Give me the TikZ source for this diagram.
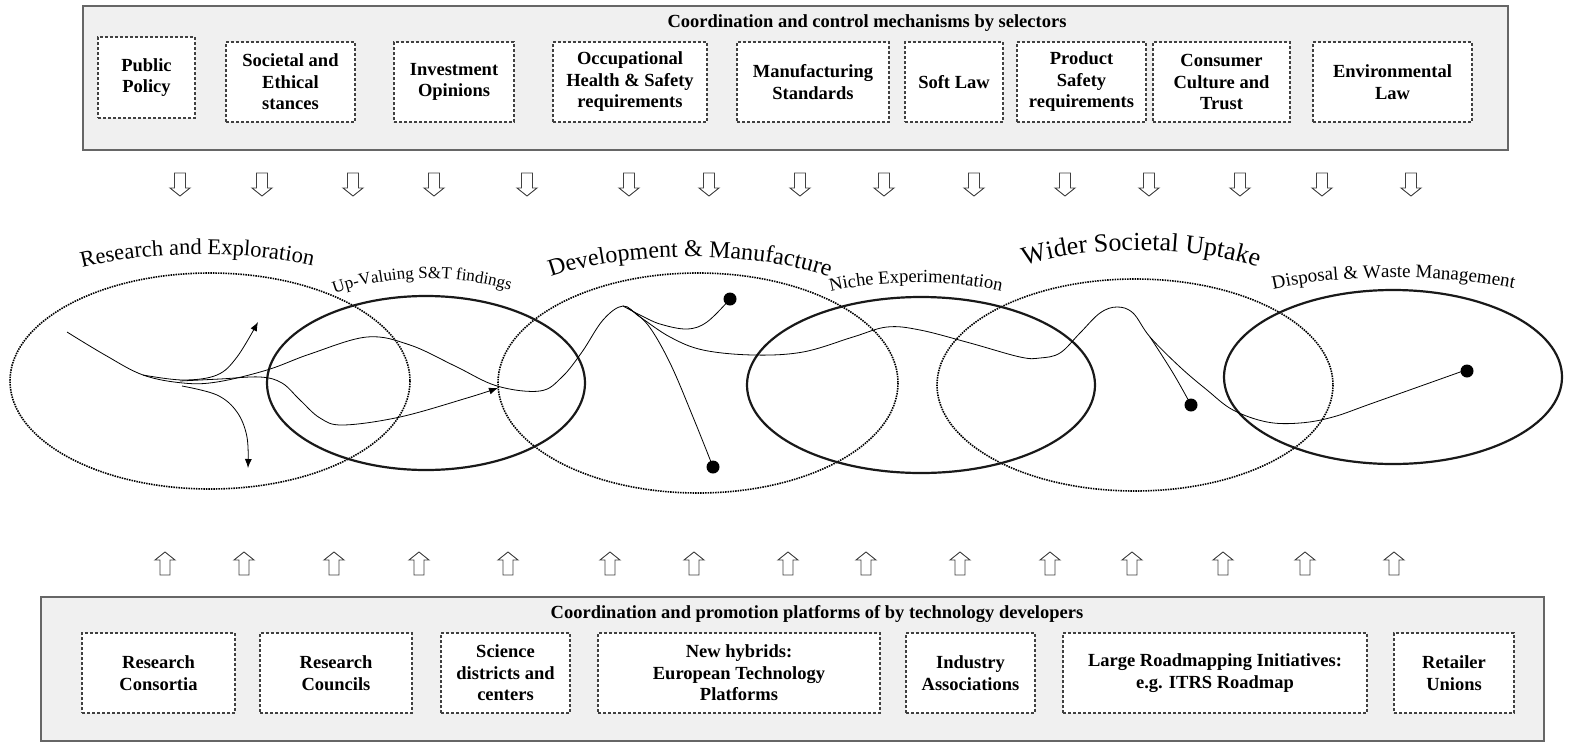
\documentclass[tikz,border=0pt]{standalone}
\usepackage{fontspec}
\newfontfamily\boxfont{Liberation Serif}
\usetikzlibrary{decorations.text,arrows.meta}

\begin{document}
\begin{tikzpicture}[x=1pt,y=-1pt,
    panel/.style={draw=black!60,line width=1.2pt,fill=black!6},
    selbox/.style={draw=black!75,dash pattern=on 3pt off 2pt,line width=1.1pt,fill=white,
      align=center,inner sep=0pt,minimum height=80pt,
      font=\boxfont\bfseries\fontsize{18.5}{21.5}\selectfont},
    heading/.style={font=\boxfont\bfseries\fontsize{18.5}{21.5}\selectfont},
    phase/.style={draw=black,dash pattern=on 1.5pt off 1pt,line width=1.6pt},
    niche/.style={draw=black!90,line width=2.2pt},
    track/.style={line width=0.8pt},
    tip/.style={-{Latex[length=9pt,width=7pt]}},
    hollow/.style={draw=black!75,line width=0.9pt,fill=white}]
  \useasboundingbox (0,0) rectangle (1571,742);

  % selectors
  \draw[panel] (83,6) rectangle (1508,150);
  \node[heading,anchor=base] (seltitle) at (867,27) {Coordination and control mechanisms by selectors};
  \node[selbox,minimum width=97pt,minimum height=81pt] (pubpol) at (146.5,77.5) {Public\\Policy};
  \node[selbox,minimum width=129pt] (soceth) at (290.5,82) {Societal and\\Ethical\\stances};
  \node[selbox,minimum width=120pt] (invest) at (454,82) {Investment\\Opinions};
  \node[selbox,minimum width=154pt] (occhs) at (630,82) {Occupational\\Health \& Safety\\requirements};
  \node[selbox,minimum width=152pt] (manstd) at (813,82) {Manufacturing\\Standards};
  \node[selbox,minimum width=98pt] (softlaw) at (954,82) {Soft Law};
  \node[selbox,minimum width=129pt] (prodsaf) at (1081.5,82) {Product\\Safety\\requirements};
  \node[selbox,minimum width=137pt] (consum) at (1221.5,82) {Consumer\\Culture and\\Trust};
  \node[selbox,minimum width=159pt] (envlaw) at (1392.5,82) {Environmental\\Law};

  \foreach \x in {180,262,353,434,527,629,709,800,884,974,1065,1149,1240,1322,1411}
    \draw[hollow] (\x-5.5,173) -- (\x+5.5,173) -- (\x+5.5,188) -- (\x+10,188) -- (\x,196)
      -- (\x-10,188) -- (\x-5.5,188) -- cycle;

  % phases
  \draw[phase] (210,381) ellipse [x radius=200, y radius=108];
  \draw[phase] (698,383) ellipse [x radius=200, y radius=110];
  \draw[phase] (1135,385) ellipse [x radius=198, y radius=106];
  \draw[niche] (426,383) ellipse [x radius=159, y radius=87];
  \draw[niche] (921,385) ellipse [x radius=174, y radius=88];
  \draw[niche] (1393,377) ellipse [x radius=169, y radius=87];

  \path[decorate,decoration={text along path,text align=center,
    text={|\boxfont\fontsize{22.5}{22.5}\selectfont|Research and Exploration}}]
    (70,271) .. controls (140,249) and (255,249) .. (325,269);
  \path[decorate,decoration={text along path,text align=center,
    text={|\boxfont\fontsize{17}{17}\selectfont|Up-Valuing S{\&}T findings}}]
    (325,297) .. controls (385,273) and (460,273) .. (520,293);
  \path[decorate,decoration={text along path,text align=center,
    text={|\boxfont\fontsize{24}{24}\selectfont|Development {\&} Manufacture}}]
    (534,284) .. controls (610,248) and (770,248) .. (846,284);
  \path[decorate,decoration={text along path,text align=center,
    text={|\boxfont\fontsize{18.5}{18.5}\selectfont|Niche Experimentation}}]
    (822,294) .. controls (875,279) and (955,279) .. (1010,293);
  \path[decorate,decoration={text along path,text align=center,
    text={|\boxfont\fontsize{26}{26}\selectfont|Wider Societal Uptake}}]
    (1010,271) .. controls (1075,243) and (1205,243) .. (1272,273);
  \path[decorate,decoration={text along path,text align=center,
    text={|\boxfont\fontsize{19}{19}\selectfont|Disposal {\&} Waste Management}}]
    (1262,292) .. controls (1330,273) and (1450,273) .. (1525,291);

  % trajectories
  \draw[track] plot[smooth,tension=0.6] coordinates {(67,332) (105,355) (143,375) (183,383)
    (217,382) (267,370) (310,354) (367,337) (410,345) (455,366) (497,386) (540,391)
    (562,377) (582,352) (603,320) (623,306) (640,317) (670,337) (703,350) (753,355)
    (803,352) (853,337) (887,327) (920,330) (970,343) (1020,357) (1040,358) (1060,353)
    (1080,333) (1100,313) (1117,307) (1133,313) (1150,337) (1180,367) (1207,390)
    (1233,410) (1267,422) (1300,423) (1333,417) (1373,403) (1463,371)};
  \draw[track,tip] plot[smooth,tension=0.6] coordinates {(143,375) (183,380) (217,375)
    (237,357) (258,322)};
  \draw[track,tip] plot[smooth,tension=0.6] coordinates {(182,386) (217,395) (237,412)
    (247,437) (248,468)};
  \draw[track,tip] plot[smooth,tension=0.6] coordinates {(180,381) (220,379) (260,377)
    (282,383) (300,400) (320,418) (343,425) (400,417) (467,398) (498,388)};
  \draw[track] plot[smooth,tension=0.6] coordinates {(623,306) (640,315) (660,324)
    (687,329) (707,322) (730,299)};
  \draw[track] plot[smooth,tension=0.6] coordinates {(628,308) (648,325) (670,363)
    (693,417) (713,467)};
  \draw[track] plot[smooth,tension=0.6] coordinates {(1150,337) (1173,373) (1191,405)};
  \fill (730,299) circle [radius=6.5];
  \fill (713,467) circle [radius=6.5];
  \fill (1191,405) circle [radius=6.5];
  \fill (1467,371) circle [radius=6.5];

  \foreach \x in {165,244,334,419,508,610,694,788,866,960,1050,1132,1223,1305,1394}
    \draw[hollow] (\x,552) -- (\x+10,560) -- (\x+5,560) -- (\x+5,575) -- (\x-5,575)
      -- (\x-5,560) -- (\x-10,560) -- cycle;

  % developers
  \draw[panel] (41,597) rectangle (1544,741);
  \node[heading,anchor=base] (devtitle) at (817,618) {Coordination and promotion platforms of by technology developers};
  \node[selbox,minimum width=153pt] (rescons) at (158.5,673) {Research\\Consortia};
  \node[selbox,minimum width=152pt] (rescoun) at (336,673) {Research\\Councils};
  \node[selbox,minimum width=129pt] (scidist) at (505.5,673) {Science\\districts and\\centers};
  \node[selbox,minimum width=282pt] (newhyb) at (739,673) {New hybrids:\\European Technology\\Platforms};
  \node[selbox,minimum width=129pt] (indass) at (970.5,673) {Industry\\Associations};
  \node[selbox,minimum width=304pt] (roadmap) at (1215,673) {Large Roadmapping Initiatives:\\e.g. ITRS Roadmap};
  \node[selbox,minimum width=120pt] (retail) at (1454,673) {Retailer\\Unions};
\end{tikzpicture}
\end{document}
